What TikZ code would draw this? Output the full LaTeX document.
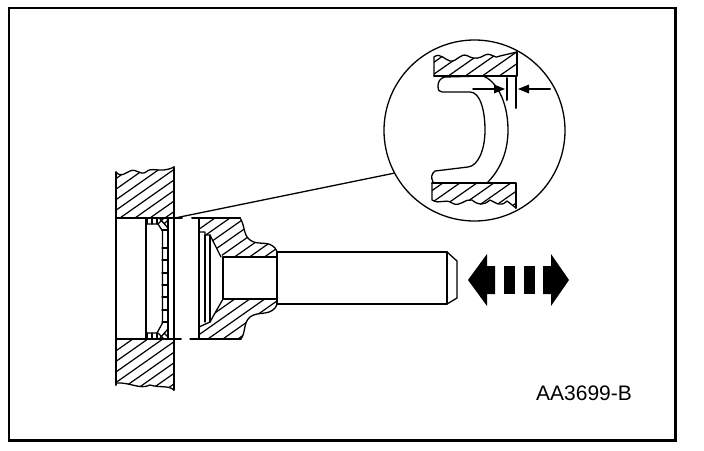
\documentclass[tikz,border=0pt]{standalone}
\usepackage{fontspec}
\setmainfont{Liberation Sans}
\tikzset{
  thick line/.style={line width=2pt,line cap=round,line join=round},
  thin line/.style={line width=1.3pt,line cap=round,line join=round},
  hatch line/.style={line width=1.2pt},
}
\newcommand{\hatchfill}[1]{% start offset
  \foreach \hx in {#1,\the\numexpr#1+15\relax,...,700}{\draw[hatch line] (\hx,450) -- ++(640,-450);}
}
\begin{document}
\begin{tikzpicture}[x=1pt,y=-1pt]
\useasboundingbox (0,0) rectangle (704,450);
\fill[white] (0,0) rectangle (704,450);
\draw[line width=2.4pt] (9,8) rectangle (675.5,440.5);
% housing top
\begin{scope}
\clip (116,172) .. controls (121,178) and (125,173) .. (130,171) .. controls (137,168) and (140,176) .. (146,172) .. controls (152,166) and (160,174) .. (174,167) -- (174,218) -- (116,218) -- cycle;
\hatchfill{-300}
\end{scope}
\draw[thin line] (116,172) .. controls (121,178) and (125,173) .. (130,171) .. controls (137,168) and (140,176) .. (146,172) .. controls (152,166) and (160,174) .. (174,167);
% housing bottom
\begin{scope}
\clip (116,339) -- (174,339) -- (174,390) .. controls (168,385) and (160,388) .. (150,385) .. controls (140,390) and (130,382) .. (116,383) -- cycle;
\hatchfill{-400}
\end{scope}
\draw[thin line] (174,390) .. controls (168,385) and (160,388) .. (150,385) .. controls (140,390) and (130,382) .. (116,383);
\draw[thick line] (116,172) -- (116,385);
\draw[thick line] (174,167) -- (174,390);
\draw[thick line] (116,218) -- (182,218);
\draw[thick line] (116,339) -- (181,339);
\draw[thick line] (146,218) -- (146,339);
% seal
\draw[thin line] (147,224) -- (158,224) -- (162.5,231) -- (162.5,323) -- (157,333) -- (147,333);
\draw[thin line] (147,218) -- (147,224) (157,218) -- (157,224) (152,218) -- (152,224);
\draw[thin line] (147,333) -- (147,339) (157,333) -- (157,339) (152,333) -- (152,339);
\draw[thick line] (168,218) -- (168,339);
\foreach \ty in {230,248,260,273,285,297,310,322}{\draw[thin line] (162,\ty) -- (168,\ty);}
\draw[thin line] (158,224) -- (164,218) (160,219) -- (168,228) (164,224) -- (168,220);
\draw[thin line] (158,333) -- (164,339) (160,338) -- (168,329) (164,333) -- (168,337);
% leader
\draw[thin line] (175,218) -- (395,173);
% yoke hatching
\begin{scope}
\clip (199,218) -- (240,218) .. controls (245,225) and (243,235) .. (250,240) .. controls (258,246) and (268,240) .. (275,248) .. controls (277,251) and (277,252) .. (277,257) -- (223,257) -- (208,235) -- (205,235) -- (205,232) -- (199,232) -- cycle;
\hatchfill{-295}
\end{scope}
\begin{scope}
\clip (199,339) -- (241,339) .. controls (246,332) and (243,323) .. (250,317) .. controls (258,311) and (268,316) .. (275,308) .. controls (277,305) and (277,304) .. (277,299) -- (223,299) -- (215,313) -- (210,322) -- (199,329) -- cycle;
\hatchfill{-295}
\end{scope}
% yoke outline
\draw[thin line] (240,218) .. controls (245,225) and (243,235) .. (250,240) .. controls (258,246) and (268,240) .. (275,248) .. controls (277,251) and (277,252) .. (277,252);
\draw[thin line] (241,339) .. controls (246,332) and (243,323) .. (250,317) .. controls (258,311) and (268,316) .. (275,308) .. controls (277,305) and (277,304) .. (277,304);
\draw[thick line] (192,218) -- (240,218);
\draw[thin line] (190,339) -- (241,339);
\draw[thick line] (199,218) -- (199,339);
\draw[thin line] (205,235) -- (205,322) (210,235) -- (210,322);
\draw[thin line] (199,232) -- (205,232) -- (205,235) -- (210,235) -- (221,257);
\draw[thin line] (199,327) -- (210,322) -- (215,313) -- (223,299);
\draw[thick line] (223,257) -- (277,257);
\draw[thin line] (223,257) -- (223,299) -- (277,299);
\draw[thin line] (277,252) -- (277,304);
% shaft
\draw[thick line] (277,252) -- (447,252);
\draw[thin line] (277,304) -- (447,304);
\draw[thin line] (447,252) -- (447,304);
\draw[thin line] (447,252) -- (457,261) -- (457,298) -- (447,304);
% big arrow
\fill (468,280) -- (487,254) -- (487,266) -- (495,266) -- (495,294) -- (487,294) -- (487,306) -- cycle;
\fill (504,266) rectangle (515,294);
\fill (524,266) rectangle (535,294);
\fill (569,280) -- (551,254) -- (551,266) -- (543,266) -- (543,294) -- (551,294) -- (551,306) -- cycle;
% inset
\draw[thin line,fill=white] (474.5,130.5) circle (90.5);
\begin{scope}
\clip (434,57) .. controls (440,52) and (445,60) .. (450,61) .. controls (458,62) and (460,52) .. (468,56) .. controls (475,60) and (480,58) .. (485,55) .. controls (492,52) and (495,60) .. (500,56) -- (517,52) -- (517,76) -- (434,76) -- cycle;
\foreach \hx in {380,397,...,560}{\draw[hatch line] (\hx,100) -- ++(100,-70);}
\end{scope}
\draw[thin line] (434,76) -- (434,57) .. controls (440,52) and (445,60) .. (450,61) .. controls (458,62) and (460,52) .. (468,56) .. controls (475,60) and (480,58) .. (485,55) .. controls (492,52) and (495,60) .. (500,56) -- (517,52);
\draw[thick line] (434,76) -- (517,76) -- (517,52);
\begin{scope}
\clip (432,183) -- (516,183) -- (516,208) -- (507,201) .. controls (500,208) and (495,202) .. (490,200) .. controls (483,206) and (478,205) .. (472,200) .. controls (465,198) and (460,208) .. (452,203) .. controls (445,198) and (440,205) .. (432,200) -- cycle;
\foreach \hx in {390,407,...,580}{\draw[hatch line] (\hx,220) -- ++(100,-70);}
\end{scope}
\draw[thin line] (516,208) -- (507,201) .. controls (500,208) and (495,202) .. (490,200) .. controls (483,206) and (478,205) .. (472,200) .. controls (465,198) and (460,208) .. (452,203) .. controls (445,198) and (440,205) .. (432,200) -- (432,183);
\draw[thick line] (432,183) -- (516,183) -- (516,208);
% snap ring
\draw[thin line] (483,76) .. controls (495,80) and (508,100) .. (508,130) .. controls (508,155) and (498,172) .. (487,183);
\draw[thin line] (483,76) -- (445,77) .. controls (440,78) and (438,82) .. (438,86) .. controls (438,90) and (439,92) .. (442,92) -- (470,92) .. controls (480,92) and (485,110) .. (485,130) .. controls (485,150) and (478,166) .. (468,167) -- (435,171) .. controls (431,174) and (431,178) .. (433,182);
% dimension
\draw[thick line] (507,78) -- (507,100);
\draw[thick line] (516,77) -- (516,108);
\draw[thick line] (473,89) -- (497,89);
\fill (505,89) -- (494,84.5) -- (494,93.5) -- cycle;
\draw[thick line] (550,89) -- (526,89);
\fill (518,89) -- (529,84.5) -- (529,93.5) -- cycle;
% label
\node[inner sep=0pt,anchor=base west,font=\fontsize{21}{23}\selectfont] (lbl) at (536,400.5) {AA3699-B};
\end{tikzpicture}
\end{document}
